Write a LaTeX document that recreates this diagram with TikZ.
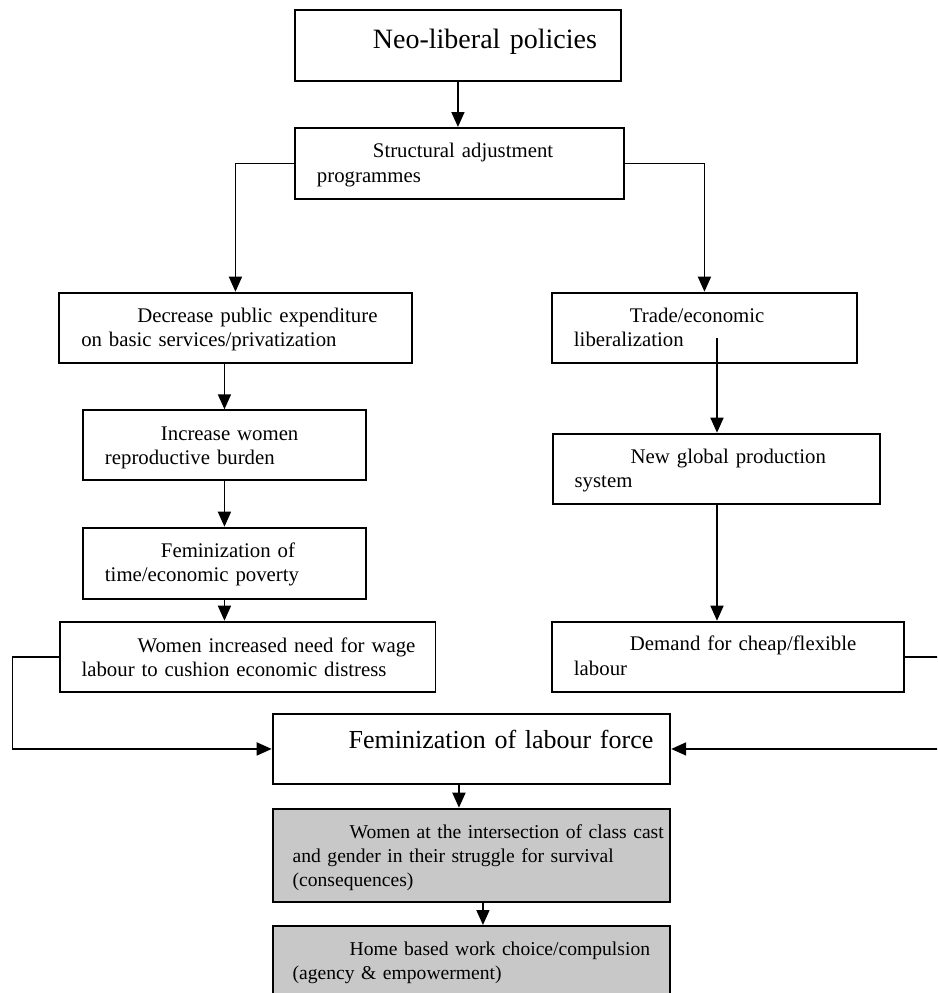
\documentclass[tikz,border=0pt]{standalone}
\usepackage{fontspec}
\setmainfont{Liberation Serif}
\usetikzlibrary{arrows.meta,positioning,calc}

\definecolor{shade}{RGB}{200,200,200}

\begin{document}
\begin{tikzpicture}[
  x=1pt,y=-1pt,
  line join=miter,
  stage/.style={draw,line width=1.9pt,anchor=north west,inner sep=0pt,
    align=left,execute at begin node={\leftskip=22pt},
    font=\fontsize{20.8}{24.3}\selectfont,text height=30pt,text depth=40pt},
  heading/.style={stage,font=\fontsize{28}{32}\selectfont},
  shaded/.style={stage,fill=shade,execute at begin node={\leftskip=20pt},
    font=\fontsize{19.6}{23.8}\selectfont},
  flow/.style={line width=1.7pt,-{Triangle[length=15pt,width=13pt]}},
]
  \useasboundingbox (0,0) rectangle (937,993);
  \clip (0,0) rectangle (937,993);

  % Top of the chain
  \node[heading,text width=326pt,text height=39pt,text depth=32pt] (neo) at (294,9)
    {\hspace*{56pt}Neo-liberal policies};
  \node[stage,text width=328.7pt,text depth=41pt] (sap) at (294,127)
    {\hspace*{56pt}Structural adjustment\\programmes};

  % Left branch
  \node[stage,text width=352.4pt] (dec) at (58.3,291.7)
    {\hspace*{56pt}Decrease public expenditure\\on basic services/privatization};
  \node[stage,text width=283pt] (burden) at (82,409.3)
    {\hspace*{56pt}Increase women\\reproductive burden};
  \node[stage,text width=283pt,text depth=41pt] (poverty) at (82,526.7)
    {\hspace*{56pt}Feminization of\\time/economic poverty};
  \node[stage,text width=375.9pt,text height=31pt,text depth=39pt] (need) at (58.6,620.7)
    {\hspace*{56pt}Women increased need for wage\\labour to cushion economic distress};

  % Right branch
  \node[stage,text width=305pt] (trade) at (551,291.7)
    {\hspace*{56pt}Trade/economic\\liberalization};
  \node[stage,text width=327.6pt] (global) at (551.7,432.7)
    {\hspace*{56pt}New global production\\system};
  \node[stage,text width=352.3pt,text height=29.3pt,text depth=40.7pt] (demand) at (551,620.7)
    {\hspace*{56pt}Demand for cheap/flexible\\labour};

  % Where both branches meet
  \node[stage,font=\fontsize{26}{30}\selectfont,text width=397.6pt,text height=35pt,text depth=35pt]
    (labour) at (271.7,713) {\hspace*{54pt}Feminization of labour force};
  \node[shaded,text width=397.6pt,text depth=63pt] (cons) at (271.7,807.7)
    {\hspace*{57pt}Women at the intersection of class cast\\and gender in their struggle for survival\\(consequences)};
  \node[shaded,text width=397.6pt,text depth=70pt] (home) at (271.7,925)
    {\hspace*{57pt}Home based work choice/compulsion\\(agency \& empowerment)};

  % Connectors
  \coordinate (stub) at (717,338);
  \draw[flow] (neo.south) -- (neo.south |- sap.north);
  \draw[flow] (sap.west) -| (dec.north);
  \draw[flow] (sap.east) -| (trade.north);
  \draw[flow] (burden.north |- dec.south) -- (burden.north);
  \draw[flow] (burden.south) -- (poverty.north);
  \draw[flow] (poverty.south) -- (poverty.south |- need.north);
  \draw[flow] (stub) -- (stub |- global.north);
  \draw[flow] (stub |- global.south) -- (stub |- demand.north);
  \draw[flow] (need.west) -- ++(-46,0) |- (labour.west);
  \draw[flow] (demand.east) -- ++(45,0) |- (labour.east);
  \draw[flow] ([xshift=-12.5pt]labour.south) -- ([xshift=-12.5pt]labour.south |- cons.north);
  \draw[flow] ([xshift=11.5pt]cons.south) -- ([xshift=11.5pt]cons.south |- home.north);
\end{tikzpicture}
\end{document}
